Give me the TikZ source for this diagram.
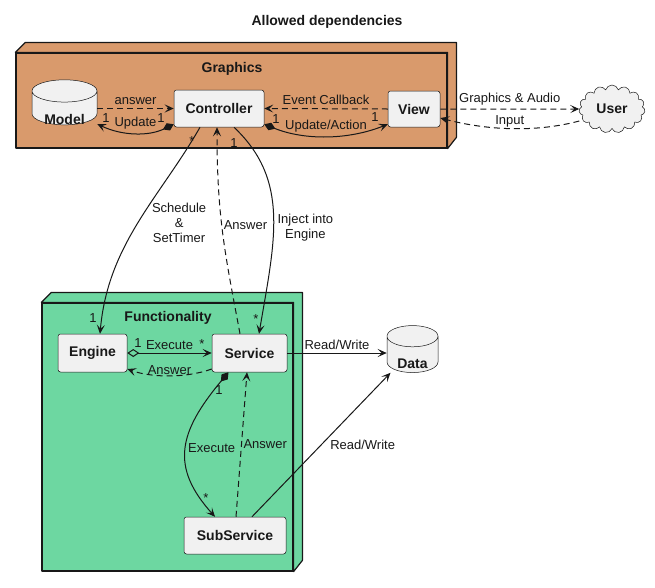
\documentclass[tikz,border=0pt]{standalone}
\usepackage{fontspec}
\setmainfont{Liberation Sans}
\usetikzlibrary{arrows.meta,positioning,calc,shapes.geometric,shapes.symbols}
\definecolor{graphicsfill}{HTML}{D99A6C}
\definecolor{funcfill}{HTML}{6DD7A1}
\definecolor{boxfill}{HTML}{F1F1F1}
\definecolor{linecol}{HTML}{181818}
\tikzset{
  arrowtip/.tip={Stealth[length=9pt,width=8pt,inset=4pt]},
  fdiamond/.tip={Diamond[length=12pt,width=8pt]},
  odiamond/.tip={Diamond[open,length=12pt,width=8pt]},
}

\begin{document}
\begin{tikzpicture}[x=1pt, y=-1pt,
    every node/.style={font=\fontsize{13}{15}\selectfont, text=linecol},
    comp/.style={draw=linecol, line width=0.5pt, fill=boxfill, rounded corners=2.5pt, inner sep=0pt, font=\fontsize{14}{16}\selectfont\bfseries},
    store/.style={cylinder, shape border rotate=90, draw=linecol, line width=0.5pt, fill=boxfill, inner sep=0pt, font=\fontsize{14}{16}\selectfont\bfseries},
    usercloud/.style={cloud, cloud puffs=15, aspect=1.4, draw=linecol, line width=0.5pt, fill=boxfill, inner sep=0pt, font=\fontsize{14}{16}\selectfont\bfseries},
    pkg/.style={draw=linecol, line width=1.2pt, inner sep=0pt, line join=round},
    pkgtitle/.style={font=\fontsize{14}{16}\selectfont\bfseries},
    lbl/.style={inner sep=1.5pt},
    dep/.style={draw=linecol, line width=1pt, -arrowtip},
    ret/.style={dep, dash pattern=on 6pt off 4pt},
  ]
  \useasboundingbox (0,0) rectangle (655,587);
  \node[pkgtitle] (title) at (327,21.5) {Allowed dependencies};

  % Graphics package
  \node[pkg, fill=graphicsfill, minimum width=431pt, minimum height=95pt] (graphics) at (231.5,100.5) {};
  \draw[pkg, fill=graphicsfill] (graphics.north west) -- ++(10,-10) -- ++(431,0) -- ++(0,95)
    -- (graphics.south east) -- (graphics.north east) -- cycle;
  \node[pkgtitle] (graphicslbl) at (232,68.5) {Graphics};
  \node[store, aspect=0.55, minimum width=65pt, minimum height=45pt] (model) at (64.5,108) {\raisebox{-16pt}[0pt][0pt]{Model}};
  \node[comp, minimum width=90pt, minimum height=37pt] (ctrl) at (219,108.5) {Controller};
  \node[comp, minimum width=52pt, minimum height=36pt] (view) at (414,109) {View};
  \node[usercloud, minimum width=66pt, minimum height=48pt] (user) at (612,109) {User};

  % Functionality package
  \node[pkg, fill=funcfill, minimum width=251pt, minimum height=268pt] (func) at (167.5,437) {};
  \draw[pkg, fill=funcfill] (func.north west) -- ++(10,-10) -- ++(251,0) -- ++(0,268)
    -- (func.south east) -- (func.north east) -- cycle;
  \node[pkgtitle] (funclbl) at (168,318) {Functionality};
  \node[comp, minimum width=69pt, minimum height=38pt] (engine) at (92.5,353) {Engine};
  \node[comp, minimum width=75pt, minimum height=38pt] (service) at (249.5,353) {Service};
  \node[comp, minimum width=102pt, minimum height=37pt] (subsvc) at (235,535.5) {SubService};
  \node[store, aspect=0.7, minimum width=51pt, minimum height=47pt] (data) at (412.5,354.5) {\raisebox{-13.5pt}[0pt][0pt]{Data}};

  % Graphics links
  \draw[ret] (model.east |- ctrl.west) -- node[lbl, above=2pt] {answer} (ctrl.west);
  \draw[dep, fdiamond-arrowtip] ([yshift=3pt]ctrl.south west) .. controls +(-25,12) and +(25,12) .. ([yshift=-16pt]model.east)
    node[lbl, above=2pt, pos=0.5] {Update}
    node[lbl] at (161,118) {1} node[lbl] at (106,118) {1};
  \draw[ret] (view.west) -- node[lbl, above=2pt] {Event Callback} (ctrl.east);
  \draw[dep, fdiamond-arrowtip] ([yshift=3pt]ctrl.south east) .. controls +(40,16) and +(-40,16) .. ([yshift=3pt]view.south west)
    node[lbl, above=2pt, pos=0.5] {Update/Action}
    node[lbl] at (276,119) {1} node[lbl] at (375,117) {1};
  \draw[ret] (view.east) -- node[lbl, above=2pt] {Graphics \& Audio} (user.west);
  \draw[ret] ([yshift=-12pt]user.west) .. controls +(-45,12) and +(45,12) .. ([yshift=-9pt]view.east)
    node[above, inner sep=0.5pt, pos=0.5] {Input};

  % Graphics <-> Functionality
  \draw[dep] ([xshift=-19pt]ctrl.south) .. controls +(-40,70) and +(8,-90) .. ([xshift=7.5pt]engine.north)
    node[lbl, pos=0.5, right=12pt, align=center] {Schedule\\\&\\SetTimer}
    node[lbl] at (192,141) {*} node[lbl] at (93,318) {1};
  \draw[ret] ([xshift=-9.5pt]service.north) .. controls +(-15,-80) and +(0,90) .. ([xshift=-2pt]ctrl.south)
    node[lbl, pos=0.55, right] {Answer};
  \draw[dep] ([xshift=15pt]ctrl.south) .. controls +(56,53) and +(16,-94) .. ([xshift=9.5pt]service.north)
    node[lbl, pos=0.56, right=2pt, align=center] {Inject into\\Engine}
    node[lbl] at (234,143) {1} node[lbl] at (256,319) {*};

  % Functionality links
  \draw[dep, odiamond-arrowtip] (engine.east) -- node[lbl, above=1pt] {Execute} (service.west)
    node[lbl] at (138,343) {1} node[lbl] at (202,344) {*};
  \draw[ret] ([yshift=-16pt]service.west) .. controls +(-25,9) and +(25,9) .. ([yshift=-16pt]engine.east)
    node[above, inner sep=0.5pt, pos=0.5] {Answer};
  \draw[dep] (service.east) -- node[lbl, above=1pt] {Read/Write} (data.west |- service.east);
  \draw[dep, fdiamond-arrowtip] ([xshift=-21pt]service.south) .. controls +(-50,60) and +(-45,-50) .. ([xshift=-20pt]subsvc.north)
    node[lbl, pos=0.5, anchor=west] {Execute}
    node[lbl] at (219,390) {1} node[lbl] at (206,498) {*};
  \draw[ret] ([xshift=1pt]subsvc.north) -- node[lbl, pos=0.5, right] {Answer} ([xshift=-2.5pt]service.south);
  \draw[dep] ([xshift=17pt]subsvc.north) -- node[lbl, pos=0.5, right=7pt] {Read/Write} ([xshift=-22pt]data.south);
\end{tikzpicture}
\end{document}
